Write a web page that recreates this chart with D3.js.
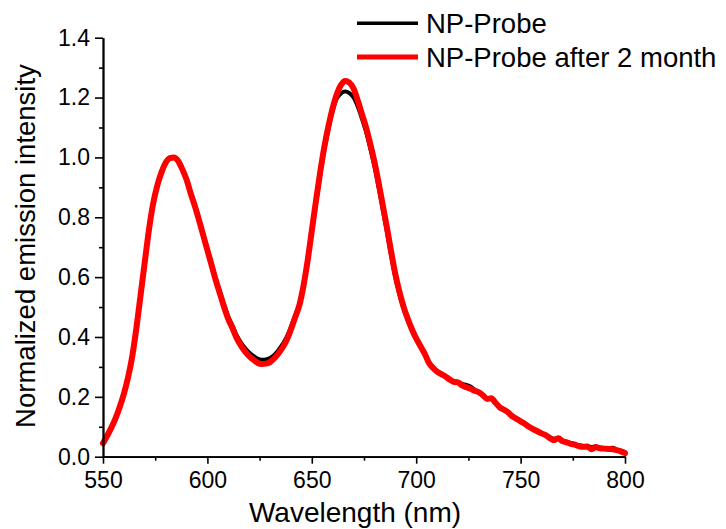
<!DOCTYPE html>
<html>
<head>
<meta charset="utf-8">
<script src="https://cdn.jsdelivr.net/npm/d3@7"></script>
<style>
  html, body { margin: 0; padding: 0; background: #fff; }
  svg { display: block; }
  text { font-family: Arial, "Liberation Sans", sans-serif; fill: #000; }
</style>
</head>
<body>
<svg id="chart" width="726" height="529"></svg>
<script>
// ---- data ----
const wavelength = [550,552,554,556,558,560,562,564,566,568,570,572,574,576,578,580,582,584,586,588,590,592,594,596,598,600,602,604,606,608,610,612,614,616,618,620,622,624,626,628,630,632,634,636,638,640,642,644,646,648,650,652,654,656,658,660,662,664,666,668,670,672,674,676,678,680,682,684,686,688,690,692,694,696,698,700,702,704,706,708,710,712,714,716,718,720,722,724,726,728,730,732,734,736,738,740,742,744,746,748,750,752,754,756,758,760,762,764,766,768,770,772,774,776,778,780,782,784,786,788,790,792,794,796,798,800];

const npProbeAfter = [0.045,0.07,0.097,0.128,0.166,0.21,0.265,0.335,0.43,0.54,0.65,0.758,0.845,0.906,0.95,0.982,0.998,1.0,0.988,0.96,0.926,0.88,0.837,0.79,0.74,0.69,0.64,0.59,0.545,0.5,0.46,0.43,0.397,0.372,0.352,0.336,0.324,0.314,0.31,0.311,0.316,0.328,0.345,0.365,0.39,0.425,0.465,0.505,0.57,0.655,0.755,0.855,0.95,1.035,1.105,1.165,1.212,1.242,1.255,1.25,1.23,1.19,1.145,1.1,1.045,0.985,0.915,0.84,0.765,0.685,0.61,0.55,0.5,0.46,0.425,0.395,0.37,0.345,0.315,0.297,0.284,0.276,0.268,0.258,0.25,0.248,0.238,0.232,0.227,0.22,0.215,0.205,0.193,0.195,0.18,0.165,0.157,0.148,0.135,0.127,0.118,0.11,0.1,0.092,0.085,0.078,0.072,0.062,0.055,0.062,0.052,0.048,0.043,0.04,0.035,0.033,0.034,0.025,0.032,0.028,0.027,0.026,0.025,0.022,0.018,0.012];

const npProbe = [0.045,0.07,0.097,0.128,0.166,0.21,0.265,0.335,0.43,0.54,0.65,0.758,0.845,0.908,0.952,0.984,0.999,1.0,0.99,0.963,0.93,0.884,0.842,0.795,0.745,0.695,0.646,0.596,0.552,0.508,0.468,0.438,0.406,0.382,0.363,0.348,0.337,0.328,0.324,0.325,0.33,0.34,0.356,0.376,0.4,0.433,0.47,0.51,0.572,0.652,0.748,0.845,0.94,1.025,1.095,1.155,1.197,1.214,1.22,1.215,1.2,1.17,1.13,1.085,1.03,0.97,0.9,0.825,0.75,0.672,0.6,0.542,0.494,0.455,0.42,0.392,0.368,0.343,0.314,0.298,0.286,0.278,0.27,0.26,0.252,0.25,0.243,0.24,0.235,0.224,0.216,0.206,0.196,0.196,0.182,0.167,0.159,0.15,0.138,0.129,0.12,0.111,0.102,0.094,0.087,0.079,0.073,0.065,0.06,0.062,0.054,0.05,0.046,0.042,0.038,0.036,0.035,0.032,0.034,0.03,0.029,0.028,0.03,0.024,0.02,0.015];

const seriesNames = ["NP-Probe", "NP-Probe after 2 month"];
const seriesColors = ["#000000", "#ff0000"];
const xTicks = [550,600,650,700,750,800];
const xMinorTicks = [575,625,675,725,775];
const yTicks = [0.0,0.2,0.4,0.6,0.8,1.0,1.2,1.4];
const yMinorTicks = [0.1,0.3,0.5,0.7,0.9,1.1,1.3];
const xTitle = "Wavelength (nm)";
const yTitle = "Normalized emission intensity";

// ---- layout ----
const svg = d3.select("#chart");
const plotLeft = 103, plotRight = 625, plotTop = 37.7, plotBottom = 456.7;

const x = d3.scaleLinear().domain([550, 800]).range([plotLeft, plotRight]);
const y = d3.scaleLinear().domain([0, 1.4]).range([plotBottom, plotTop]);

// lines
const line = d3.line()
  .x(d => x(d[0]))
  .y(d => y(d[1]))
  .curve(d3.curveMonotoneX);

const dataBlack = wavelength.map((w, i) => [w, npProbe[i]]);
const dataRed = wavelength.map((w, i) => [w, npProbeAfter[i]]);

svg.append("path")
  .datum(dataBlack)
  .attr("d", line)
  .attr("fill", "none")
  .attr("stroke", seriesColors[0])
  .attr("stroke-width", 4)
  .attr("stroke-linejoin", "round")
  .attr("stroke-linecap", "round");

svg.append("path")
  .datum(dataRed)
  .attr("d", line)
  .attr("fill", "none")
  .attr("stroke", seriesColors[1])
  .attr("stroke-width", 6)
  .attr("stroke-linejoin", "round")
  .attr("stroke-linecap", "round");

// axes
const fmt = d3.format(".1f");
const xAxis = svg.append("g")
  .attr("transform", `translate(0,${plotBottom})`)
  .call(d3.axisBottom(x).tickValues(xTicks).tickSize(7).tickSizeOuter(0).tickPadding(8).tickFormat(d3.format("d")));
const xMinor = svg.append("g")
  .attr("transform", `translate(0,${plotBottom})`)
  .call(d3.axisBottom(x).tickValues(xMinorTicks).tickSize(4).tickSizeOuter(0).tickFormat(""));
const yAxis = svg.append("g")
  .attr("transform", `translate(${plotLeft},0)`)
  .call(d3.axisLeft(y).tickValues(yTicks).tickSize(8).tickSizeOuter(0).tickPadding(5).tickFormat(fmt));
const yMinor = svg.append("g")
  .attr("transform", `translate(${plotLeft},0)`)
  .call(d3.axisLeft(y).tickValues(yMinorTicks).tickSize(4).tickSizeOuter(0).tickFormat(""));

[xAxis, xMinor, yAxis, yMinor].forEach(g => {
  g.select(".domain").attr("stroke", "#000").attr("stroke-width", 1.8);
  g.selectAll(".tick line").attr("stroke", "#000").attr("stroke-width", 1.6);
  g.selectAll(".tick text")
    .style("font-family", "Arial, 'Liberation Sans', sans-serif")
    .style("font-size", "23px")
    .attr("fill", "#000");
});

// titles
svg.append("text")
  .attr("x", 355)
  .attr("y", 522)
  .attr("text-anchor", "middle")
  .style("font-size", "28px")
  .text(xTitle);

svg.append("text")
  .attr("transform", `translate(35,246) rotate(-90)`)
  .attr("text-anchor", "middle")
  .style("font-size", "27.5px")
  .text(yTitle);

// legend
const legendY = [23.3, 57];
seriesNames.forEach((name, i) => {
  svg.append("line")
    .attr("x1", 357).attr("x2", 418)
    .attr("y1", legendY[i]).attr("y2", legendY[i])
    .attr("stroke", seriesColors[i])
    .attr("stroke-width", i === 0 ? 3.5 : 5);
  svg.append("text")
    .attr("x", 426)
    .attr("y", legendY[i] + 10)
    .style("font-size", "27.5px")
    .text(name);
});
</script>
</body>
</html>
